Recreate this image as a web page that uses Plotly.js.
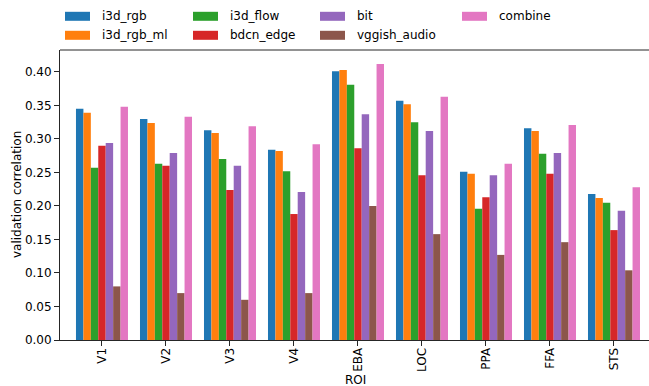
<!DOCTYPE html>
<html>
<head>
<meta charset="utf-8">
<script src="https://cdn.plot.ly/plotly-3.0.1.min.js"></script>
<style>html,body{margin:0;padding:0;background:#fff;}#chart{width:649px;height:386px;}</style>
</head>
<body>
<div id="chart"></div>
<script>
// ---- data ----
const rois = ["V1", "V2", "V3", "V4", "EBA", "LOC", "PPA", "FFA", "STS"];
const seriesNames = ["i3d_rgb", "i3d_rgb_ml", "i3d_flow", "bdcn_edge", "bit", "vggish_audio", "combine"];
const i3d_rgb      = [0.345, 0.330, 0.313, 0.284, 0.401, 0.357, 0.251, 0.316, 0.218];
const i3d_rgb_ml   = [0.339, 0.324, 0.309, 0.282, 0.403, 0.352, 0.248, 0.312, 0.212];
const i3d_flow     = [0.257, 0.263, 0.270, 0.252, 0.381, 0.325, 0.196, 0.278, 0.205];
const bdcn_edge    = [0.290, 0.260, 0.224, 0.188, 0.286, 0.246, 0.213, 0.248, 0.164];
const bit          = [0.294, 0.279, 0.260, 0.221, 0.337, 0.312, 0.246, 0.279, 0.193];
const vggish_audio = [0.080, 0.070, 0.060, 0.070, 0.200, 0.158, 0.127, 0.146, 0.104];
const combine      = [0.348, 0.333, 0.319, 0.292, 0.412, 0.363, 0.263, 0.321, 0.228];
const yTicks = [0.00, 0.05, 0.10, 0.15, 0.20, 0.25, 0.30, 0.35, 0.40];
const xTitle = "ROI";
const yTitle = "validation correlation";

// ---- style ----
const colors = ["#1f77b4", "#ff7f0e", "#2ca02c", "#d62728", "#9467bd", "#8c564b", "#e377c2"];
const allValues = [i3d_rgb, i3d_rgb_ml, i3d_flow, bdcn_edge, bit, vggish_audio, combine];

const W = 649, H = 386;
const M = {l: 60, r: 0, t: 50, b: 46};
const PW = W - M.l - M.r, PH = H - M.t - M.b;
const px = x => (x - M.l) / PW;
const py = y => (H - M.b - y) / PH;

const traces = seriesNames.map((name, i) => ({
  type: "bar",
  name: name,
  x: rois,
  y: allValues[i],
  marker: {color: colors[i], line: {width: 0}},
  showlegend: false,
  hoverinfo: "x+y+name"
}));

// manual matplotlib-style legend (4 columns, column-major)
const colX = [65, 193, 320, 462];
const rowY = [16.3, 35.3];
const shapes = [
  {type: "line", xref: "paper", yref: "paper", x0: 0, x1: 1, y0: 1, y1: 1,
   line: {color: "#262626", width: 1}}
];
const annotations = [];
seriesNames.forEach((name, i) => {
  const c = Math.floor(i / 2), r = i % 2;
  const x0 = colX[c], yc = rowY[r];
  shapes.push({type: "rect", xref: "paper", yref: "paper",
    x0: px(x0), x1: px(x0 + 25), y0: py(yc + 4.5), y1: py(yc - 4.5),
    fillcolor: colors[i], line: {width: 0}});
  annotations.push({xref: "paper", yref: "paper", x: px(x0 + 35), y: py(yc),
    xanchor: "left", yanchor: "middle", text: name, showarrow: false,
    font: {size: 12, color: "#000"}});
});
// axis titles placed like matplotlib
annotations.push({xref: "paper", yref: "paper", x: px(355), y: py(380),
  xanchor: "center", yanchor: "middle", text: xTitle, showarrow: false,
  font: {size: 12, color: "#000"}});
annotations.push({xref: "paper", yref: "paper", x: px(17), y: 0.5,
  xanchor: "center", yanchor: "middle", textangle: -90, text: yTitle, showarrow: false,
  font: {size: 12, color: "#000"}});

const layout = {
  width: W, height: H,
  margin: M,
  paper_bgcolor: "#fff", plot_bgcolor: "#fff",
  font: {family: "DejaVu Sans", size: 12, color: "#000"},
  barmode: "group",
  bargap: 0.1875,
  bargroupgap: 0,
  showlegend: false,
  xaxis: {
    type: "category",
    range: [-0.656, 8.547],
    showline: true, linecolor: "#262626", linewidth: 1,
    ticks: "outside", ticklen: 5, tickwidth: 1, tickcolor: "#262626",
    tickangle: -90,
    ticklabelstandoff: -3,
    showgrid: false, zeroline: false,
    automargin: false
  },
  yaxis: {
    range: [0, 0.4328],
    tickvals: yTicks,
    tickformat: ".2f",
    showline: true, linecolor: "#262626", linewidth: 1,
    ticks: "outside", ticklen: 5, tickwidth: 1, tickcolor: "#262626",
    showgrid: false, zeroline: false,
    automargin: false
  },
  shapes: shapes,
  annotations: annotations
};

Plotly.newPlot("chart", traces, layout, {displayModeBar: false, staticPlot: true});
</script>
</body>
</html>
